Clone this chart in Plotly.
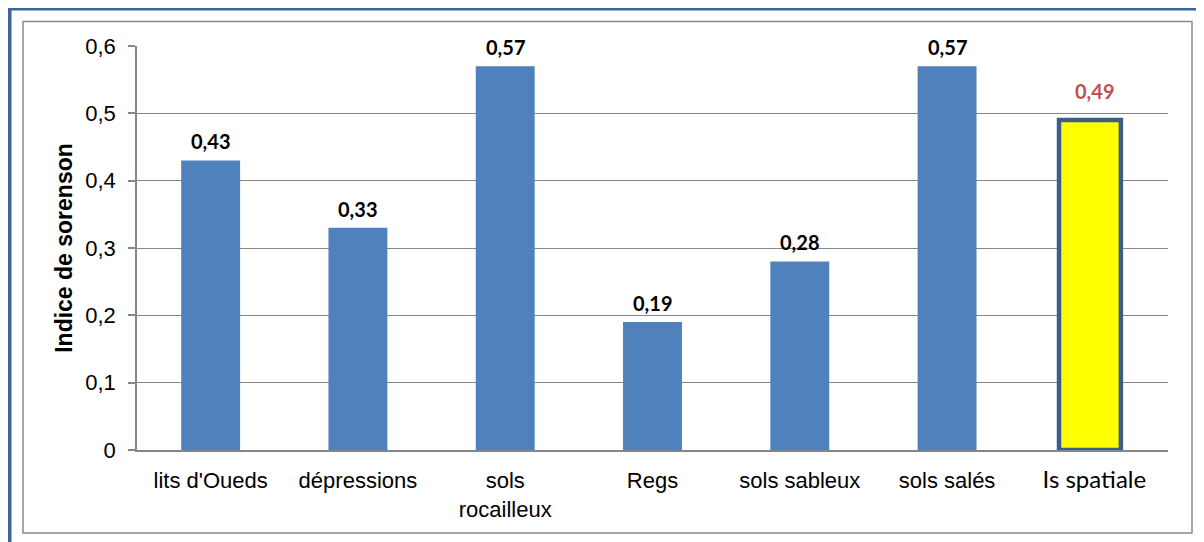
import plotly.graph_objects as go

categories = ["lits d'Oueds", "dépressions", "sols<br>rocailleux", "Regs",
              "sols sableux", "sols salés", "Is spatiale"]
values = [0.43, 0.33, 0.57, 0.19, 0.28, 0.57, 0.49]
tick_vals = [0, 0.1, 0.2, 0.3, 0.4, 0.5, 0.6]
tick_text = ["0", "0,1", "0,2", "0,3", "0,4", "0,5", "0,6"]
y_title = "Indice de sorenson"

# page body has an 8px margin, so figure coordinates = screen - 8
OFF = 8
W, H = 1204 - OFF, 542 - OFF
L, R, T, B = 137 - OFF, 1168 - OFF, 46 - OFF, 450 - OFF

bar_colors = ["#4f81bd"] * 6 + ["#ffff00"]
line_colors = ["#4f81bd"] * 6 + ["#3b5e8c"]
line_widths = [0] * 6 + [4.5]
widths = [0.4] * 6 + [0.42]
offsets = [-0.2] * 6 + [-0.24]
label_colors = ["#000000"] * 6 + ["#c0504d"]
label_shifts = [5] * 6 + [15]

cat_ticktext = [c for c in categories[:-1]] + [
    '<span style="font-family:Lato, Carlito, sans-serif; font-size:24px">' + categories[-1] + '</span>'
]

fig = go.Figure(go.Bar(
    x=list(range(len(categories))),
    y=values,
    width=widths,
    offset=offsets,
    marker=dict(color=bar_colors, line=dict(color=line_colors, width=line_widths)),
    cliponaxis=False,
))

for i, v in enumerate(values):
    fig.add_annotation(
        x=i, y=v, xref="x", yref="y",
        text="<b>" + f"{v:.2f}".replace(".", ",") + "</b>",
        showarrow=False, yanchor="bottom", yshift=label_shifts[i],
        font=dict(family="Lato, sans-serif", size=20, color=label_colors[i]),
    )

def px_x(px):
    return (px - OFF - L) / (R - L)

def px_y(py):
    return (B - (py - OFF)) / (B - T)

shapes = [
    # outer blue frame
    dict(type="rect", xref="paper", yref="paper",
         x0=px_x(9.5), x1=px_x(1215), y0=px_y(8.5), y1=px_y(560),
         line=dict(color="#3c6494", width=4), fillcolor="rgba(0,0,0,0)", layer="below"),
    # inner gray frame
    dict(type="rect", xref="paper", yref="paper",
         x0=px_x(23), x1=px_x(1192), y0=px_y(21.5), y1=px_y(533),
         line=dict(color="#8c8c8c", width=1.5), fillcolor="rgba(0,0,0,0)", layer="below"),
]

fig.update_layout(
    width=W, height=H,
    margin=dict(l=L, r=W - R, t=T, b=H - B),
    paper_bgcolor="white", plot_bgcolor="white",
    showlegend=False,
    font=dict(family="Liberation Sans, Arial, sans-serif", color="#000000"),
    shapes=shapes,
)
fig.update_xaxes(
    range=[-0.5, len(categories) - 0.5],
    tickvals=list(range(len(categories))), ticktext=cat_ticktext,
    tickfont=dict(size=22, color="#000000"),
    showline=True, linecolor="#868686", linewidth=1.5,
    ticks="", ticklabelstandoff=10, showgrid=False, zeroline=False,
    fixedrange=True,
)
fig.update_yaxes(
    range=[0, 0.6],
    tickvals=tick_vals, ticktext=tick_text,
    tickfont=dict(size=22, color="#000000"),
    showline=True, linecolor="#868686", linewidth=1.5,
    ticks="outside", ticklen=7, tickcolor="#868686", tickwidth=1.5,
    ticklabelstandoff=8,
    showgrid=True, gridcolor="#868686", gridwidth=1,
    zeroline=False,
    title=dict(text=y_title, font=dict(size=23, weight="bold"), standoff=6),
)

fig.write_html("out.html")
